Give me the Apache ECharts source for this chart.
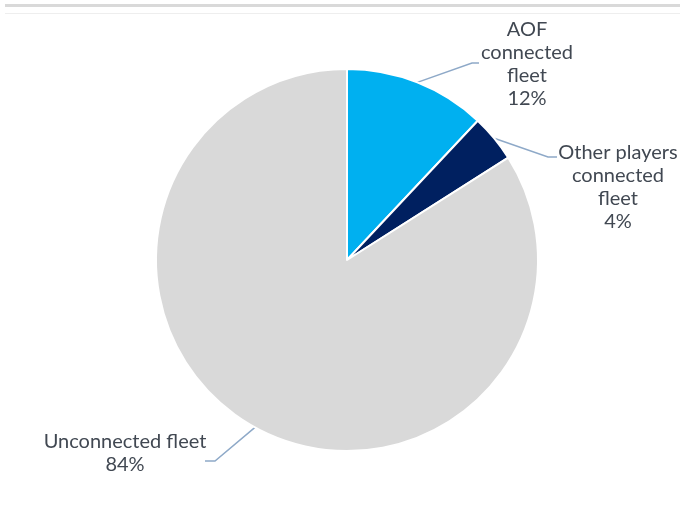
<!DOCTYPE html>
<html>
<head>
<meta charset="utf-8">
<script src="https://cdn.jsdelivr.net/npm/echarts@6/dist/echarts.min.js"></script>
<style>
  html, body { margin: 0; padding: 0; background: #fff; }
  #chart { width: 680px; height: 508px; }
</style>
</head>
<body>
<div id="chart"></div>
<script>
// fleet split, percent
const names = ['AOF\nconnected\nfleet', 'Other players\nconnected\nfleet', 'Unconnected fleet'];
const values = [12, 4, 84];
const colors = ['#00B0F0', '#002060', '#D9D9D9'];

// where each label sits and where its leader line bends (px)
const labelSpots = [
    { x: 527, y: 64, bend: [472, 63], end: [479, 63] },
    { x: 618, y: 187, bend: [548, 157], end: [557, 157] },
    { x: 125, y: 453, bend: [215, 461], end: [205, 461] }
];

const chart = echarts.init(document.getElementById('chart'));
chart.setOption({
    animation: false,
    textStyle: { fontFamily: 'Lato' },
    graphic: [
        { type: 'rect', shape: { x: 5, y: 4, width: 675, height: 3 }, style: { fill: '#D9D9D9' } },
        { type: 'rect', shape: { x: 5, y: 13, width: 675, height: 1 }, style: { fill: '#EEEEEE' } }
    ],
    series: [{
        type: 'pie',
        center: [347, 260],
        radius: [0, 191],
        startAngle: 90,
        clockwise: true,
        itemStyle: { borderColor: '#fff', borderWidth: 2 },
        label: {
            formatter: '{b}\n{d}%',
            fontFamily: 'Lato',
            fontSize: 20,
            lineHeight: 23,
            color: '#414852',
            align: 'center',
            overflow: 'none',
            bleedMargin: 0,
            edgeDistance: 0
        },
        labelLine: {
            show: true,
            lineStyle: { color: '#8EA9C8', width: 1.5 }
        },
        labelLayout: function (params) {
            const s = labelSpots[params.dataIndex];
            const start = params.labelLinePoints ? params.labelLinePoints[0] : s.bend;
            return {
                x: s.x,
                y: s.y,
                align: 'center',
                verticalAlign: 'middle',
                labelLinePoints: [start, s.bend, s.end]
            };
        },
        data: names.map((n, i) => ({ name: n, value: values[i], itemStyle: { color: colors[i] } }))
    }]
});
</script>
</body>
</html>
